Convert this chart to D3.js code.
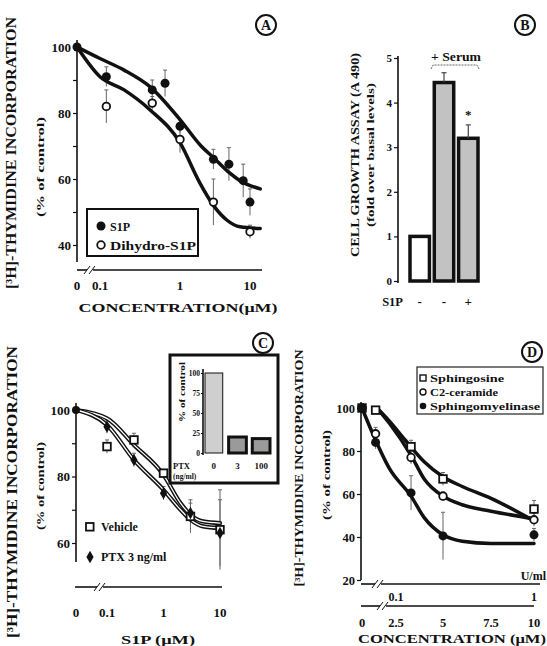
<!DOCTYPE html>
<html>
<head>
<meta charset="utf-8">
<script src="https://cdn.jsdelivr.net/npm/d3@7"></script>
<style>
  body { margin: 0; background: #fff; }
  svg text { font-family: "Liberation Serif", "Times New Roman", "DejaVu Serif", serif; font-weight: bold; fill: #111; }
</style>
</head>
<body>
<svg id="fig" width="547" height="646"></svg>
<script>
// ---- panel A: S1P vs dihydro-S1P dose response
const s1pConc = [0, 0.12, 0.45, 0.65, 1, 3, 5, 8, 10];
const s1pVals = [100, 91, 87, 89, 76, 66, 64.5, 59.5, 53];
const s1pErr = [0, 3, 3, 4, 2, 3, 5, 5, 4];
const dihydroConc = [0.12, 0.45, 1, 3, 10];
const dihydroVals = [82, 83, 72, 53, 44];
const dihydroErr = [5, 2, 4, 7, 2];
const s1pFitConc = [0, 0.1, 0.2, 0.42, 1, 2, 3, 5, 7.2, 14];
const s1pFitVals = [100, 96.5, 93, 88, 78, 70, 66.5, 62, 59.5, 57];
const dihydroFitConc = [0, 0.1, 0.2, 0.42, 1, 1.9, 3, 4.7, 7.2, 14];
const dihydroFitVals = [100, 91, 87, 81, 71, 59, 52, 47.5, 45.5, 45];
const concTicksA = [0, 0.1, 1, 10];

// ---- panel B: cell growth assay
const growthVals = [1, 4.45, 3.2];
const growthErr = [0, 0.22, 0.3];
const growthS1P = ["-", "-", "+"];
const growthTicks = [0, 1, 2, 3, 4, 5];

// ---- panel C: vehicle vs PTX
const vehConc = [0, 0.1, 0.3, 1, 3, 10];
const vehVals = [100, 89, 91, 81, 68, 64];
const vehErr = [0, 2, 2, 1, 5, 12];
const ptxConc = [0, 0.1, 0.3, 1, 3, 10];
const ptxVals = [100, 95, 85, 75, 69, 63];
const ptxErr = [0, 2, 2, 2, 3, 10];
const fitConcC = [0, 0.1, 0.3, 1, 2, 3, 5, 10];
const vehFitVals = [100, 97.5, 89.5, 80.5, 72, 68.5, 66.5, 66];
const ptxFitVals = [100, 95.5, 85, 76, 70, 67, 65, 64.5];
const insetDoses = ["0", "3", "100"];
const insetVals = [100, 20, 18];
const insetTicks = [0, 25, 50, 75, 100];

// ---- panel D: sphingolipids
const dConc = [0, 1, 3.3, 5, 10];
const sphingosineVals = [100, 99, 82, 67, 53];
const sphingosineErr = [0, 1, 3, 3, 4];
const ceramideVals = [100, 88, 77, 59, 48];
const ceramideErr = [0, 3, 3, 2, 3];
const smaseVals = [100, 84, 60.5, 40.5, 41];
const smaseErr = [0, 3, 8, 11, 3];
const sphFitConc = [1.1, 2, 3, 4, 5, 6, 7.5, 10];
const sphFitVals = [100, 94, 85, 75, 68, 63.5, 58, 47.5];
const cerFitConc = [1.1, 2, 3.3, 4, 5, 6, 7.5, 10];
const cerFitVals = [100, 93, 78, 67, 59, 55, 52, 48.5];
const smFitConc = [0, 1, 2, 3.3, 4, 5, 6, 7.5, 10];
const smFitVals = [100, 85, 72, 59, 49, 41, 38, 37, 37];
const concTicksD = [0, 2.5, 5, 7.5, 10];
const unitTicksD = [[2.5, "0.1"], [10, "1"]];

const svg = d3.select("#fig");
const ink = "#111";

function vLabel(x, cy, txt, size, len) {
  svg.append("text")
    .attr("transform", `translate(${x},${cy}) rotate(-90)`)
    .attr("text-anchor", "middle")
    .attr("font-size", size)
    .attr("textLength", len)
    .attr("lengthAdjust", "spacingAndGlyphs")
    .text(txt);
}

function hText(x, y, txt, size, anchor, len) {
  const t = svg.append("text").attr("x", x).attr("y", y)
    .attr("font-size", size).attr("text-anchor", anchor || "middle").text(txt);
  if (len) t.attr("textLength", len).attr("lengthAdjust", "spacingAndGlyphs");
  return t;
}

function seg(x1, y1, x2, y2, w, col) {
  svg.append("line").attr("x1", x1).attr("y1", y1).attr("x2", x2).attr("y2", y2)
    .attr("stroke", col || ink).attr("stroke-width", w || 1.5);
}

// horizontal axis line with a "//" break
function brokenAxis(x0, x1, y, bx) {
  seg(x0, y, bx - 3, y, 1.6);
  seg(bx + 3, y, x1, y, 1.6);
  seg(bx - 6, y + 4, bx, y - 4, 1);
  seg(bx - 1, y + 4, bx + 5, y - 4, 1);
}

function yAxis(scale, x, ticks, isLabel, size, top, bottom, tick) {
  const g = svg.append("g").attr("transform", `translate(${x},0)`)
    .call(d3.axisLeft(scale).tickValues(ticks).tickSize(tick || 4).tickPadding(tick ? 1 : 2)
      .tickFormat(d => isLabel(d) ? d : ""));
  g.select(".domain").remove();
  g.attr("font-size", size).attr("color", ink);
  g.selectAll("line").attr("stroke-width", 1.2);
  seg(x, top, x, bottom, 1.6);
}

function circled(x, y, letter) {
  svg.append("circle").attr("cx", x).attr("cy", y).attr("r", 10)
    .attr("fill", "#fff").attr("stroke", ink).attr("stroke-width", 2);
  hText(x, y + 5, letter, 14);
}

function fitLine(xs, ys, px, py, w) {
  const line = d3.line().x(d => px(d[0])).y(d => py(d[1])).curve(d3.curveMonotoneX);
  return svg.append("path").datum(d3.zip(xs, ys)).attr("d", line)
    .attr("fill", "none").attr("stroke", ink).attr("stroke-width", w)
    .attr("stroke-linecap", "round");
}

function errBars(xs, ys, es, px, py) {
  xs.forEach((c, i) => {
    if (!es[i]) return;
    const x = px(c);
    seg(x, py(ys[i] - es[i]), x, py(ys[i] + es[i]), 1, "#666");
    seg(x - 2, py(ys[i] + es[i]), x + 2, py(ys[i] + es[i]), 1, "#666");
  });
}

function marks(xs, ys, px, py, kind) {
  const g = svg.append("g");
  xs.forEach((c, i) => {
    const x = px(c), y = py(ys[i]);
    if (kind === "dot") {
      g.append("circle").attr("cx", x).attr("cy", y).attr("r", 4.5).attr("fill", ink);
    } else if (kind === "ring") {
      g.append("circle").attr("cx", x).attr("cy", y).attr("r", 3.8)
        .attr("fill", "#fff").attr("stroke", ink).attr("stroke-width", 1.8);
    } else if (kind === "square") {
      g.append("rect").attr("x", x - 3.8).attr("y", y - 3.8).attr("width", 7.6).attr("height", 7.6)
        .attr("fill", "#fff").attr("stroke", ink).attr("stroke-width", 1.8);
    } else if (kind === "diamond") {
      g.append("path").attr("transform", `translate(${x},${y})`)
        .attr("d", d3.symbol(d3.symbolDiamond, 45)()).attr("fill", ink);
    }
  });
}

// ================= Panel A
const xA = d3.scaleLog().domain([0.1, 1, 10]).range([100, 180, 250]);
const posA = c => c === 0 ? 77 : xA(c);
const yA = d3.scaleLinear().domain([40, 100]).range([245, 47]);

yAxis(yA, 77, d3.range(40, 101, 10), d => d % 20 === 0, 13, 40, 262);
brokenAxis(77, 262, 270, 90);
concTicksA.forEach(c => hText(posA(c), 290, c, 13));
hText(178, 312, "CONCENTRATION(μM)", 13.5, "middle", 199);
vLabel(16, 153, "[³H]-THYMIDINE INCORPORATION", 14, 272);
vLabel(44, 167, "(% of control)", 11, 100);

errBars(s1pConc, s1pVals, s1pErr, posA, yA);
errBars(dihydroConc, dihydroVals, dihydroErr, posA, yA);
fitLine(s1pFitConc, s1pFitVals, posA, yA, 3.5);
fitLine(dihydroFitConc, dihydroFitVals, posA, yA, 3.5);
marks(s1pConc, s1pVals, posA, yA, "dot");
marks(dihydroConc, dihydroVals, posA, yA, "ring");

svg.append("rect").attr("x", 87).attr("y", 209).attr("width", 111).attr("height", 47)
  .attr("fill", "#fff").attr("stroke", ink).attr("stroke-width", 2);
svg.append("circle").attr("cx", 101).attr("cy", 226).attr("r", 4.5).attr("fill", ink);
hText(110, 231, "S1P", 12, "start");
svg.append("circle").attr("cx", 101).attr("cy", 245).attr("r", 3.8)
  .attr("fill", "#fff").attr("stroke", ink).attr("stroke-width", 1.8);
hText(110, 250, "Dihydro-S1P", 12, "start", 86);
circled(266, 25, "A");

// ================= Panel B
const yB = d3.scaleLinear().domain([0, 5]).range([281, 58]);
const xB = d3.scaleBand().domain(d3.range(growthVals.length)).range([410, 478]).paddingInner(0.2);
yAxis(yB, 398, growthTicks, () => true, 11, 56, 283);
svg.append("g").selectAll("rect").data(growthVals).join("rect")
  .attr("x", (d, i) => xB(i)).attr("width", xB.bandwidth())
  .attr("y", d => yB(d)).attr("height", d => yB(0) - yB(d))
  .attr("fill", (d, i) => i === 0 ? "#fff" : "#c2c2c2")
  .attr("stroke", ink).attr("stroke-width", 3.5);
growthVals.forEach((v, i) => {
  if (!growthErr[i]) return;
  const cx = xB(i) + xB.bandwidth() / 2;
  seg(cx, yB(v), cx, yB(v + growthErr[i]), 1.2, "#444");
  seg(cx - 2.5, yB(v + growthErr[i]), cx + 2.5, yB(v + growthErr[i]), 1.2, "#444");
});
hText(xB(2) + xB.bandwidth() / 2, 119, "*", 13);
hText(456, 61, "+ Serum", 12.5, "middle", 50);
svg.append("path").attr("d", "M431,69 L433,65 L477,65 L479,69")
  .attr("fill", "none").attr("stroke", "#666").attr("stroke-width", 1).attr("stroke-dasharray", "2,1");
hText(403, 306, "S1P", 12.5, "end");
growthS1P.forEach((s, i) => hText(xB(i) + xB.bandwidth() / 2, 306, s, 13));
vLabel(359, 155, "CELL GROWTH ASSAY (A 490)", 13, 204);
vLabel(374, 155, "(fold over basal levels)", 10.5, 144);
circled(525, 25, "B");

// ================= Panel C
const xC = d3.scaleLog().domain([0.1, 10]).range([107, 220]);
const posC = c => c === 0 ? 76 : xC(c);
const yC = d3.scaleLinear().domain([60, 100]).range([543, 410]);

yAxis(yC, 76, d3.range(60, 101, 10), d => d % 20 === 0, 13, 403, 562);
brokenAxis(75, 222, 587, 100);
concTicksA.forEach(c => hText(posC(c), 617, c, 13));
hText(158, 644, "S1P (μM)", 13, "middle", 74);
vLabel(17, 492, "[³H]-THYMIDINE INCORPORATION", 14, 292);
vLabel(44, 486, "(% of control)", 11, 88);

errBars(vehConc, vehVals, vehErr, posC, yC);
errBars(ptxConc, ptxVals, ptxErr, posC, yC);
[vehFitVals, ptxFitVals].forEach(vals => {
  fitLine(fitConcC, vals, posC, yC, 4.2);
  fitLine(fitConcC, vals, posC, yC, 1.3).attr("stroke", "#fff");
});
marks(vehConc.slice(1), vehVals.slice(1), posC, yC, "square");
marks(ptxConc.slice(1), ptxVals.slice(1), posC, yC, "diamond");
svg.append("circle").attr("cx", posC(0)).attr("cy", yC(100)).attr("r", 4).attr("fill", ink);

svg.append("rect").attr("x", 86).attr("y", 523).attr("width", 7.6).attr("height", 7.6)
  .attr("fill", "#fff").attr("stroke", ink).attr("stroke-width", 1.8);
hText(101, 531, "Vehicle", 12, "start");
svg.append("path").attr("transform", "translate(90,557)")
  .attr("d", d3.symbol(d3.symbolDiamond, 45)()).attr("fill", ink);
hText(101, 561, "PTX 3 ng/ml", 12, "start");

// inset
svg.append("rect").attr("x", 170).attr("y", 355).attr("width", 108).attr("height", 128)
  .attr("fill", "#fff").attr("stroke", ink).attr("stroke-width", 3);
const yIn = d3.scaleLinear().domain([0, 100]).range([453, 373]);
const xIn = d3.scaleBand().domain(insetDoses).range([205, 270]).paddingInner(0.25);
yAxis(yIn, 203, insetTicks, () => true, 7.5, 369, 455, 2);
svg.append("g").selectAll("rect").data(insetVals).join("rect")
  .attr("x", (d, i) => xIn(insetDoses[i])).attr("width", xIn.bandwidth())
  .attr("y", d => yIn(d)).attr("height", d => yIn(0) - yIn(d))
  .attr("fill", (d, i) => i === 0 ? "#cfcfcf" : "#9a9a9a")
  .attr("stroke", ink).attr("stroke-width", (d, i) => i === 0 ? 1 : 3);
insetDoses.forEach(d => hText(xIn(d) + xIn.bandwidth() / 2, 469, d, 9));
hText(173, 469, "PTX", 8.5, "start");
hText(173, 479, "(ng/ml)", 7.5, "start");
vLabel(185, 392, "% of control", 9, 60);
circled(263, 343, "C");

// ================= Panel D
const xD = d3.scaleLinear().domain([0, 2.5, 5, 7.5, 10]).range([362, 396, 443, 491, 534]);
const yD = d3.scaleLinear().domain([20, 100]).range([580, 408]);

yAxis(yD, 361, d3.range(20, 101, 20), () => true, 12.5, 402, 580);
brokenAxis(361, 540, 584, 378);
brokenAxis(361, 534, 606, 383);
unitTicksD.forEach(([p, lab]) => hText(xD(p), 601, lab, 12));
hText(546, 580, "U/ml", 12, "end");
concTicksD.forEach(c => hText(xD(c), 627, c, 12.5));
hText(452, 643, "CONCENTRATION (μM)", 13, "middle", 188);
vLabel(303, 468, "[³H]-THYMIDINE INCORPORATION", 13, 237);
vLabel(330, 475, "(% of control)", 11, 90);

errBars(dConc, sphingosineVals, sphingosineErr, xD, yD);
errBars(dConc, ceramideVals, ceramideErr, xD, yD);
errBars(dConc, smaseVals, smaseErr, xD, yD);
fitLine(sphFitConc, sphFitVals, xD, yD, 3.5);
fitLine(cerFitConc, cerFitVals, xD, yD, 3.5);
fitLine(smFitConc, smFitVals, xD, yD, 3.5);
marks(dConc, sphingosineVals, xD, yD, "square");
marks(dConc, ceramideVals, xD, yD, "ring");
marks(dConc, smaseVals, xD, yD, "dot");

svg.append("rect").attr("x", 417).attr("y", 367).attr("width", 126).attr("height", 47)
  .attr("fill", "#fff").attr("stroke", "#333").attr("stroke-width", 1.3);
svg.append("rect").attr("x", 420).attr("y", 375).attr("width", 6).attr("height", 6)
  .attr("fill", "#fff").attr("stroke", ink).attr("stroke-width", 1.4);
hText(430, 382, "Sphingosine", 10, "start", 74);
svg.append("circle").attr("cx", 423).attr("cy", 392).attr("r", 3)
  .attr("fill", "#fff").attr("stroke", ink).attr("stroke-width", 1.4);
hText(430, 396, "C2-ceramide", 10, "start", 68);
svg.append("circle").attr("cx", 423).attr("cy", 406).attr("r", 3.3).attr("fill", ink);
hText(430, 410, "Sphingomyelinase", 10, "start", 110);
circled(532, 352, "D");
</script>
</body>
</html>
